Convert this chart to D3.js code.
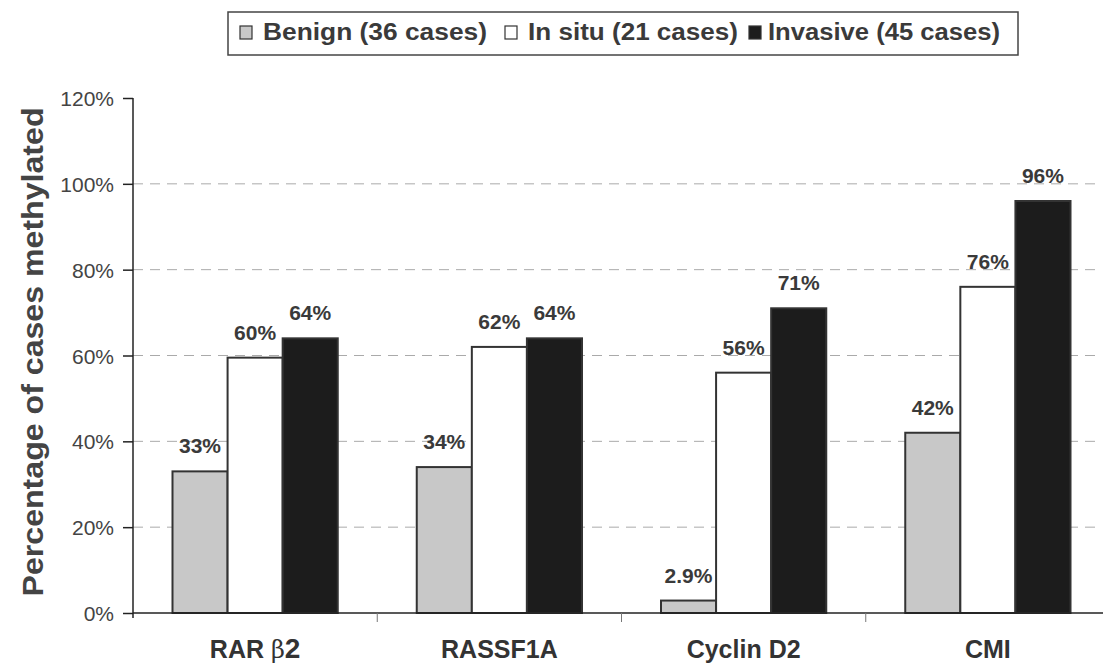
<!DOCTYPE html>
<html><head><meta charset="utf-8">
<script src="https://cdn.jsdelivr.net/npm/d3@7"></script>
<style>body{margin:0;background:#fff}svg{display:block}</style>
</head><body>
<svg id="c" width="1103" height="665"></svg>
<script>
const categories = ["RAR β2", "RASSF1A", "Cyclin D2", "CMI"];
const seriesNames = ["Benign (36 cases)", "In situ (21 cases)", "Invasive (45 cases)"];
const benign = [33, 34, 2.9, 42];
const inSitu = [59.5, 62, 56, 76];
const invasive = [64, 64, 71, 96];
const labels = [["33%","34%","2.9%","42%"],["60%","62%","56%","76%"],["64%","64%","71%","96%"]];
const yTicks = [0, 20, 40, 60, 80, 100, 120];

(function(){
const series = [benign, inSitu, invasive];
const fills = ["#c8c8c8", "#ffffff", "#1c1c1c"];
const svg = d3.select("#c");
const pL = 133, pR = 1110, pT = 98, pB = 613;
const FONT = "Liberation Sans, Arial, sans-serif";

const x = d3.scaleBand().domain(categories).range([pL, pR]).paddingInner(0).paddingOuter(0);
const x1 = d3.scaleBand().domain([0,1,2]).range([39.5, x.bandwidth() - 39.5]);
const y = d3.scaleLinear().domain([0, 120]).range([pB, pT]);

// gridlines
svg.append("g").selectAll("line").data(yTicks.filter(t => t > 0 && t < 120)).join("line")
  .attr("x1", pL).attr("x2", 1100).attr("y1", d => y(d)).attr("y2", d => y(d))
  .attr("stroke", "#aaa").attr("stroke-width", 1).attr("stroke-dasharray", "10,7");

// bars
const g = svg.append("g");
categories.forEach((c, i) => {
  series.forEach((s, k) => {
    g.append("rect")
      .attr("x", x(c) + x1(k)).attr("y", y(s[i]))
      .attr("width", x1.bandwidth()).attr("height", y(0) - y(s[i]))
      .attr("fill", fills[k]).attr("stroke", "#333").attr("stroke-width", 2);
    g.append("text")
      .attr("x", x(c) + x1(k) + x1.bandwidth() / 2).attr("y", y(s[i]) - 18)
      .attr("text-anchor", "middle").attr("font-family", FONT)
      .attr("font-weight", "bold").attr("font-size", 21).attr("fill", "#3a3a3a")
      .text(labels[k][i]);
  });
});

// y axis
const yAxis = d3.axisLeft(y).tickValues(yTicks).tickFormat(d => d + "%").tickSize(10).tickSizeOuter(0);
const ya = svg.append("g").attr("transform", `translate(${pL},0)`).call(yAxis);
ya.select(".domain").remove();
ya.append("line").attr("x1", 0).attr("x2", 0).attr("y1", pT).attr("y2", pB + 5).attr("stroke", "#222").attr("stroke-width", 1.5);
ya.selectAll(".tick line").attr("stroke", "#222").attr("stroke-width", 1.5);
ya.selectAll(".tick text").attr("font-family", FONT).attr("font-size", 21).attr("fill", "#444").attr("x", -19).attr("dy", "0.36em");

// x axis
const xa = svg.append("g").attr("transform", `translate(0,${pB})`);
xa.append("line").attr("x1", pL).attr("x2", pR).attr("stroke", "#222").attr("stroke-width", 1.5);
xa.selectAll(".tk").data(categories.slice(1)).join("line").attr("class", "tk")
  .attr("x1", d => x(d)).attr("x2", d => x(d)).attr("y1", 0).attr("y2", 9).attr("stroke", "#777");
const xl = xa.selectAll(".xl").data(categories).join("text").attr("class", "xl")
  .attr("x", d => x(d) + x.bandwidth() / 2).attr("y", 45)
  .attr("text-anchor", "middle").attr("font-family", FONT)
  .attr("font-weight", "bold").attr("font-size", 25).attr("fill", "#333");
xl.each(function(d) {
  const t = d3.select(this);
  if (d.includes("β")) {
    const parts = d.split("β");
    t.append("tspan").text(parts[0]);
    t.append("tspan").attr("font-weight", "normal").attr("font-family", "DejaVu Serif, serif").attr("font-size", 24).text("β");
    t.append("tspan").attr("font-size", 28).text(parts[1]);
  } else t.text(d);
});

// y title
svg.append("text").attr("transform", `translate(43,352) rotate(-90)`)
  .attr("text-anchor", "middle").attr("font-family", FONT)
  .attr("font-weight", "bold").attr("font-size", 30).attr("fill", "#444")
  .attr("textLength", 489).attr("lengthAdjust", "spacingAndGlyphs")
  .text("Percentage of cases methylated");

// legend
const lg = svg.append("g");
lg.append("rect").attr("x", 228).attr("y", 12).attr("width", 790).attr("height", 43)
  .attr("fill", "#fff").attr("stroke", "#444").attr("stroke-width", 1.5);
const legX = [240, 505, 749];
const legT = [263, 528, 768];
const legW = [224, 210, 232];
seriesNames.forEach((n, k) => {
  lg.append("rect").attr("x", legX[k]).attr("y", 26).attr("width", 12).attr("height", 13)
    .attr("fill", fills[k]).attr("stroke", "#333").attr("stroke-width", 1.2);
  lg.append("text").attr("x", legT[k]).attr("y", 40)
    .attr("font-family", FONT).attr("font-weight", "bold")
    .attr("font-size", 23).attr("fill", "#3a3a3a")
    .attr("textLength", legW[k]).attr("lengthAdjust", "spacingAndGlyphs").text(n);
});
})();
</script>
</body></html>
